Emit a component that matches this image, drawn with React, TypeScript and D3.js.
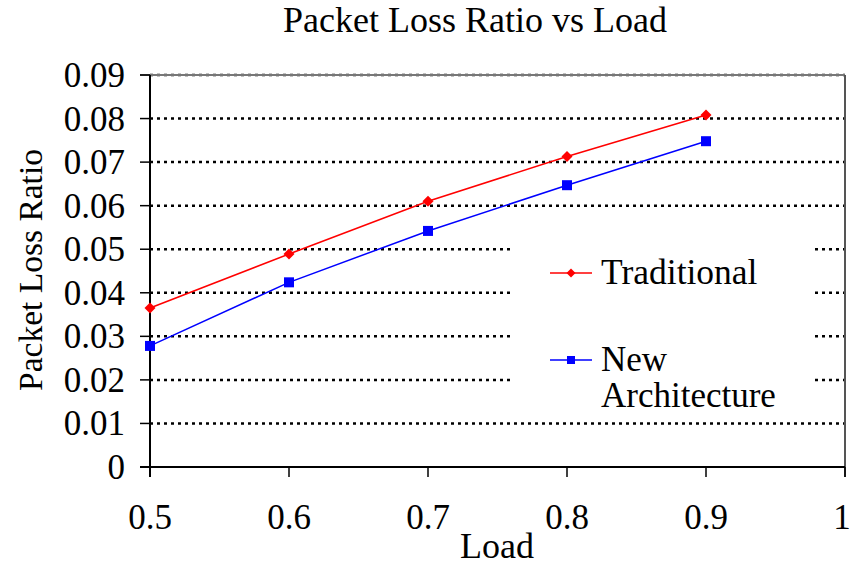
import React from "react";
import * as d3 from "d3";

const loads = [0.5, 0.6, 0.7, 0.8, 0.9];
const traditional = [0.0365, 0.0489, 0.0610, 0.0713, 0.0808];
const newArch = [0.0278, 0.0424, 0.0542, 0.0647, 0.0748];
const xTicks = [0.5, 0.6, 0.7, 0.8, 0.9, 1];
const yTicks = [0, 0.01, 0.02, 0.03, 0.04, 0.05, 0.06, 0.07, 0.08, 0.09];
const seriesNames = ["Traditional", "New Architecture"];

const W = 852, H = 567;
const L = 150, R = 845, T = 75, B = 467;
const font = "'Liberation Serif', 'Times New Roman', serif";

export default function App() {
  const x = d3.scaleLinear().domain([0.5, 1]).range([L, R]);
  const y = d3.scaleLinear().domain([0, 0.09]).range([B, T]);
  const line = d3.line<[number, number]>().x(d => x(d[0])).y(d => y(d[1]));
  const trad: [number, number][] = loads.map((l, i) => [l, traditional[i]]);
  const na: [number, number][] = loads.map((l, i) => [l, newArch[i]]);
  const diamond = (cx: number, cy: number, r: number) =>
    `M${cx},${cy - r}L${cx + r},${cy}L${cx},${cy + r}L${cx - r},${cy}Z`;

  return (
    <svg width={W} height={H} style={{ position: "absolute", left: 0, top: 0, background: "#fff" }} fontFamily={font}>
      <rect x={0} y={0} width={W} height={H} fill="#fff" />
      <text x={475} y={32} textAnchor="middle" fontSize={36}>Packet Loss Ratio vs Load</text>
      {/* gridlines */}
      {yTicks.filter(t => t > 0).map(t => (
        <line key={"g" + t} x1={L} x2={R} y1={y(t)} y2={y(t)} stroke="#000" strokeWidth={2.5} strokeDasharray="3 4" />
      ))}
      {/* frame */}
      <line x1={L - 10} x2={R} y1={T} y2={T} stroke="#777" strokeWidth={2} />
      <line x1={R} x2={R} y1={T} y2={B + 10} stroke="#555" strokeWidth={2} />
      <line x1={L} x2={L} y1={T} y2={B + 10} stroke="#000" strokeWidth={2} />
      <line x1={L - 10} x2={R} y1={B} y2={B} stroke="#000" strokeWidth={2} />
      {yTicks.map(t => (
        <g key={"y" + t}>
          <line x1={L - 10} x2={L} y1={y(t)} y2={y(t)} stroke="#000" strokeWidth={1.5} />
          <text x={125} y={y(t) + 12} textAnchor="end" fontSize={35}>{String(t)}</text>
        </g>
      ))}
      {xTicks.map(t => (
        <g key={"x" + t}>
          <line x1={x(t)} x2={x(t)} y1={B} y2={B + 10} stroke="#000" strokeWidth={1.5} />
          <text x={Math.min(x(t), 842)} y={529} textAnchor="middle" fontSize={35}>{String(t)}</text>
        </g>
      ))}
      <text x={497} y={558} textAnchor="middle" fontSize={36}>Load</text>
      <text transform={`translate(42,270) rotate(-90)`} textAnchor="middle" fontSize={33.5}>Packet Loss Ratio</text>
      {/* legend box */}
      <rect x={514} y={240} width={298} height={176} fill="#fff" />
      {/* series */}
      <path d={line(trad) || ""} fill="none" stroke="#ff0000" strokeWidth={1.5} />
      <path d={line(na) || ""} fill="none" stroke="#0000ff" strokeWidth={1.5} />
      {trad.map((d, i) => (
        <path key={"t" + i} d={diamond(x(d[0]), y(d[1]), 5.5)} fill="#ff0000" />
      ))}
      {na.map((d, i) => (
        <rect key={"n" + i} x={x(d[0]) - 5} y={y(d[1]) - 5} width={10} height={10} fill="#0000ff" />
      ))}
      {/* legend */}
      <line x1={550} x2={592} y1={273} y2={273} stroke="#ff0000" strokeWidth={1.5} />
      <path d={diamond(571, 273, 4.5)} fill="#ff0000" />
      <text x={601} y={284} fontSize={35.5}>{seriesNames[0]}</text>
      <line x1={550} x2={592} y1={360} y2={360} stroke="#0000ff" strokeWidth={1.5} />
      <rect x={567} y={356} width={8} height={8} fill="#0000ff" />
      <text x={601} y={371} fontSize={35}>New</text>
      <text x={601} y={407} fontSize={35}>Architecture</text>
    </svg>
  );
}
